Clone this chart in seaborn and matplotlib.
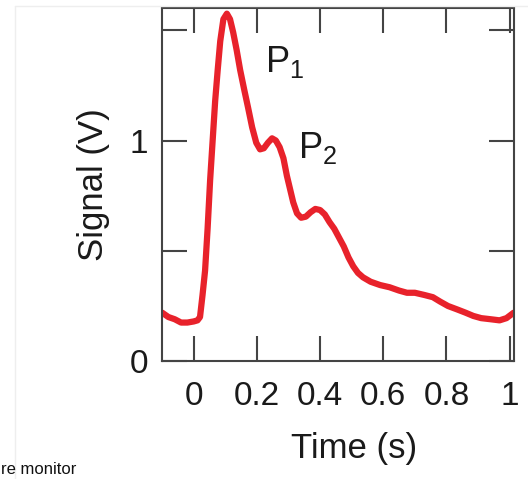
import matplotlib
matplotlib.use('Agg')
import matplotlib.pyplot as plt
from matplotlib.lines import Line2D
import seaborn as sns

# signal trace
time_s = [-0.10, -0.08, -0.06, -0.04, -0.02, 0.00, 0.012, 0.02, 0.028, 0.036,
          0.044, 0.052, 0.06, 0.068, 0.076, 0.084, 0.094, 0.105, 0.115, 0.125,
          0.136, 0.147, 0.16, 0.172, 0.185, 0.198, 0.21, 0.222, 0.235, 0.248,
          0.26, 0.272, 0.284, 0.295, 0.305, 0.315, 0.327, 0.34, 0.355, 0.37,
          0.385, 0.40, 0.415, 0.43, 0.445, 0.46, 0.475, 0.49, 0.505, 0.52,
          0.536, 0.56, 0.59, 0.62, 0.65, 0.675, 0.70, 0.73, 0.757, 0.78,
          0.805, 0.833, 0.86, 0.885, 0.91, 0.94, 0.968, 0.99, 1.013]
signal_v = [0.22, 0.20, 0.19, 0.175, 0.175, 0.18, 0.185, 0.20, 0.30, 0.41,
            0.60, 0.82, 1.00, 1.18, 1.32, 1.45, 1.55, 1.575, 1.55, 1.49,
            1.41, 1.32, 1.23, 1.15, 1.06, 0.99, 0.96, 0.965, 0.99, 1.01,
            1.00, 0.97, 0.92, 0.84, 0.78, 0.72, 0.67, 0.65, 0.655, 0.675,
            0.69, 0.685, 0.665, 0.63, 0.60, 0.56, 0.52, 0.47, 0.43, 0.40,
            0.38, 0.36, 0.345, 0.335, 0.32, 0.31, 0.31, 0.30, 0.29, 0.27,
            0.25, 0.235, 0.22, 0.205, 0.195, 0.19, 0.185, 0.195, 0.22]

x_ticks = [0, 0.2, 0.4, 0.6, 0.8, 1]
x_labels = ['0', '0.2', '0.4', '0.6', '0.8', '1']
y_ticks = [0, 0.5, 1, 1.5]
y_labels = ['0', '', '1', '']

sns.set_style('ticks')
plt.rcParams['font.family'] = ['Liberation Sans', 'DejaVu Sans']
plt.rcParams['mathtext.fontset'] = 'custom'
plt.rcParams['mathtext.rm'] = 'Liberation Sans'

fig = plt.figure(figsize=(5.28, 4.79), dpi=100)
ax = fig.add_axes([0.307, 0.246, 0.666, 0.737])

sns.lineplot(x=time_s, y=signal_v, ax=ax, color='#e8222b', linewidth=4.5)

ax.set_xlim(-0.1, 1.013)
ax.set_ylim(0, 1.6)
ax.set_xticks(x_ticks)
ax.set_xticklabels(x_labels)
ax.set_yticks(y_ticks)
ax.set_yticklabels(y_labels)

for s in ax.spines.values():
    s.set_visible(True)
    s.set_linewidth(1.5)
    s.set_color('#444444')
ax.tick_params(direction='in', length=18, width=1.5, color='#444444',
               top=True, right=True, labelsize=24, labelcolor='#1a1a1a')
ax.tick_params(axis='x', pad=14)
ax.tick_params(axis='y', pad=10)

ax.set_xlabel('Time (s)', fontsize=25, color='#1a1a1a')
ax.xaxis.set_label_coords(0.547, -0.2)
ax.set_ylabel('Signal (V)', fontsize=25, color='#1a1a1a', labelpad=14)

ax.text(0.226, 1.31, r'$\mathregular{P_1}$', fontsize=26, color='#1a1a1a')
ax.text(0.33, 0.923, r'$\mathregular{P_2}$', fontsize=26, color='#1a1a1a')

# faint page border and caption fragment from the source page
fig.add_artist(Line2D([15 / 528, 15 / 528], [0, 1 - 6 / 479], color='#eeeeee', lw=1))
fig.add_artist(Line2D([15 / 528, 1], [1 - 6 / 479, 1 - 6 / 479], color='#eeeeee', lw=1))
fig.text(0.002, 0.004, 're monitor', fontsize=12, va='bottom', color='#111111')

fig.savefig('out.png', dpi=100)
